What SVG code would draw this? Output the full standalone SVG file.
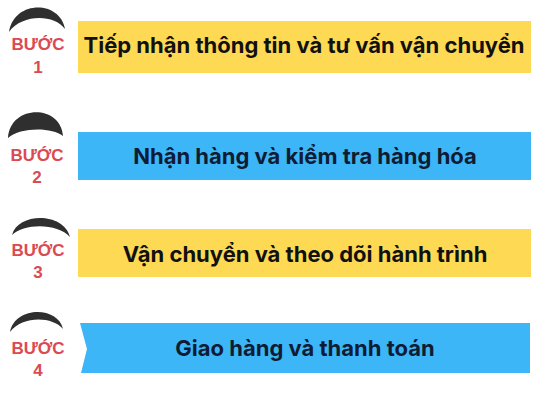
<svg xmlns="http://www.w3.org/2000/svg" width="533" height="400" viewBox="0 0 533 400">
<style>
.yel{fill:#FDD954}
.blu{fill:#3DB6F7}
.arc{fill:#2f2f2f}
.step{font-family:"Liberation Sans",Arial,sans-serif;font-weight:bold;font-size:17px;fill:#DB4A52;text-anchor:middle}
.lbl{font-family:Inter,"Noto Sans",sans-serif;font-weight:bold;font-size:22px;fill:#111;text-anchor:middle}
.lblb{fill:#0F1C33}
</style>
<rect width="533" height="400" fill="#fff"/>
<g id="step1">
<path class="arc" d="M9 32 C14 0 60 0 65 29 C54 14 22 14 9 32 Z"/>
<text class="step" x="38" y="50">BƯỚC</text>
<text class="step" x="38" y="73">1</text>
<rect class="yel" x="78" y="21" width="453" height="52"/>
<text class="lbl" x="304" y="53">Tiếp nhận thông tin và tư vấn vận chuyển</text>
</g>
<g id="step2">
<path class="arc" d="M8 138 C10 104 61 104 63 136 C52 127 20 127 8 138 Z"/>
<text class="step" x="37" y="161">BƯỚC</text>
<text class="step" x="37" y="183">2</text>
<rect class="blu" x="78" y="132" width="453" height="48"/>
<text class="lbl lblb" x="305" y="164">Nhận hàng và kiểm tra hàng hóa</text>
</g>
<g id="step3">
<path class="arc" d="M12 235 C18 212 64 212 70 237 C58 223 24 223 12 235 Z"/>
<text class="step" x="38" y="256">BƯỚC</text>
<text class="step" x="38" y="278">3</text>
<rect class="yel" x="78" y="229" width="453" height="48"/>
<text class="lbl lblb" x="305" y="262" style="fill:#111">Vận chuyển và theo dõi hành trình</text>
</g>
<g id="step4">
<path class="arc" d="M10 332 C15 306 58 306 63 329 C52 316 22 316 10 332 Z"/>
<text class="step" x="38" y="354">BƯỚC</text>
<text class="step" x="38" y="376">4</text>
<path class="blu" d="M80 323 L530 323 L530 373 L81 373 L87 349 Z"/>
<text class="lbl lblb" x="305" y="356">Giao hàng và thanh toán</text>
</g>
<g id="connectors"/>
</svg>
